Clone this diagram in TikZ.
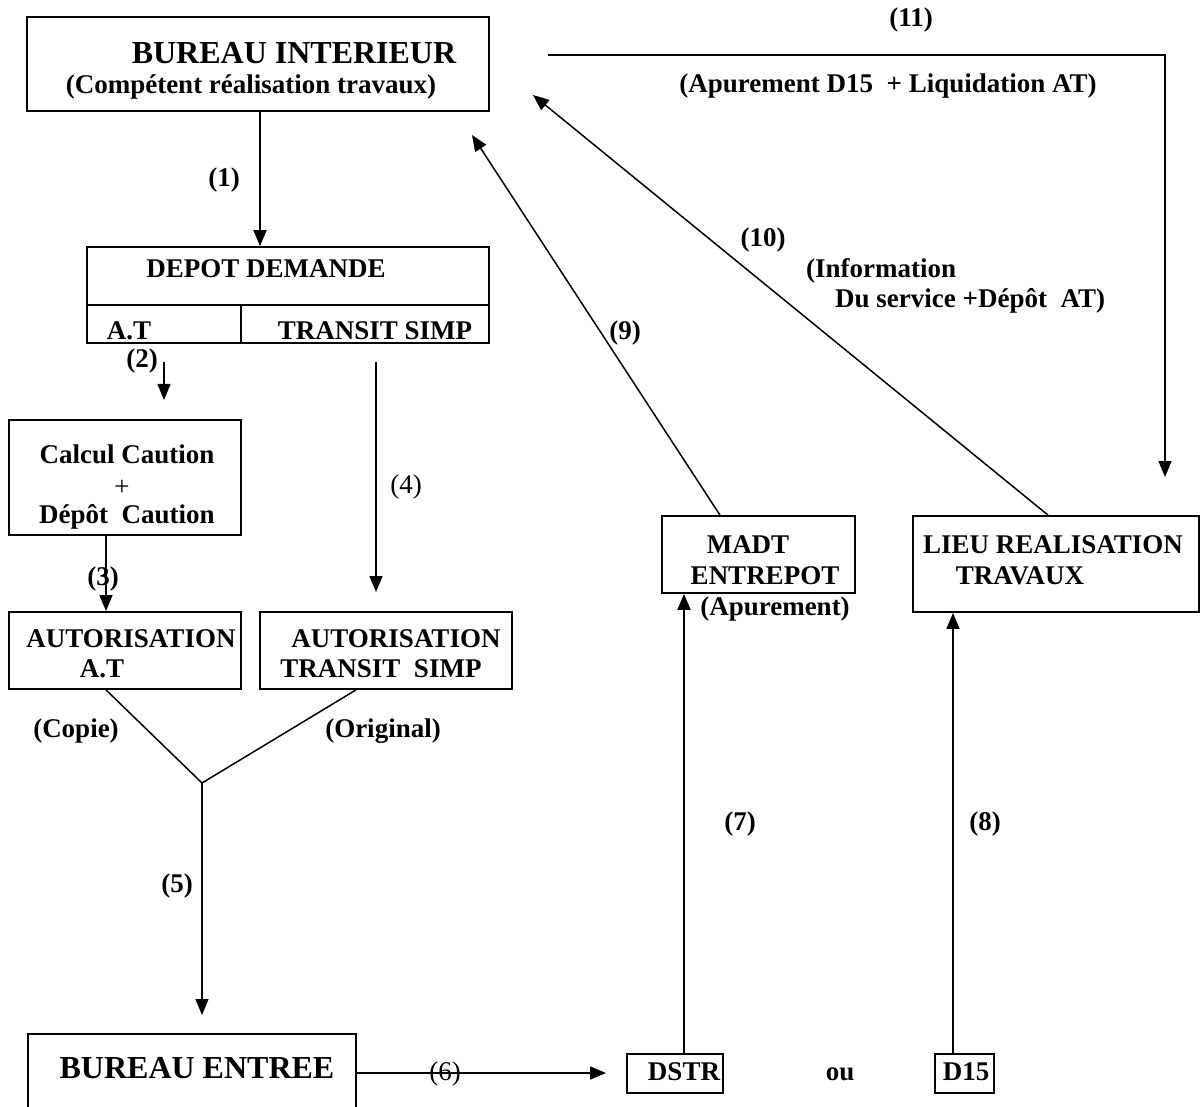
\documentclass[tikz,border=0pt]{standalone}
\usepackage{fontspec}
\setmainfont{Liberation Serif}
\usetikzlibrary{arrows.meta}
\newcommand\fnorm{\fontsize{27}{30}\selectfont\bfseries}
\newcommand\freg{\fontsize{27}{30}\selectfont}
\newcommand\fbig{\fontsize{32}{36}\selectfont\bfseries}
\tikzset{
  box/.style={draw, line width=1.8pt, rectangle, inner sep=0pt},
  ln/.style={line width=1.5pt},
  arr/.style={line width=1.5pt, -{Triangle[length=16pt,width=13pt]}},
  tx/.style={font=\fnorm, inner sep=0pt, anchor=base},
  txr/.style={font=\freg, inner sep=0pt, anchor=base},
  txb/.style={font=\fbig, inner sep=0pt, anchor=base},
}
\begin{document}
\begin{tikzpicture}[x=1pt,y=-1pt]
\useasboundingbox[fill=white] (0,0) rectangle (1200,1107);

% boxes
\node[box, minimum width=462pt, minimum height=94pt] (bi) at (258,64) {};
\node[box, minimum width=402pt, minimum height=96pt] (dd) at (288,295) {};
\node[box, minimum width=232pt, minimum height=115pt] (cc) at (125,477.5) {};
\node[box, minimum width=232pt, minimum height=77pt] (aat) at (125,650.5) {};
\node[box, minimum width=252pt, minimum height=77pt] (ats) at (386,650.5) {};
\node[box, minimum width=328pt, minimum height=100pt] (be) at (192,1084) {};
\node[box, minimum width=96pt, minimum height=39pt] (dstr) at (675,1073.5) {};
\node[box, minimum width=59pt, minimum height=39pt] (d15) at (964.5,1073.5) {};
\node[box, minimum width=193pt, minimum height=77pt] (madt) at (758.5,554.5) {};
\node[box, minimum width=286pt, minimum height=96pt] (lieu) at (1056,564) {};

% dividers of DEPOT DEMANDE
\coordinate (ddl) at (87,305);
\coordinate (ddv) at (241,305);
\draw[line width=1.8pt] (ddl) -- (ddl -| dd.east);
\draw[line width=1.8pt] (ddv) -- (ddv |- dd.south);

% texts in boxes
\node[txb] (t1) at (294,63.5) {BUREAU INTERIEUR};
\node[tx] (t2) at (251,94) {(Compétent réalisation travaux)};
\node[tx] (t3) at (266,278) {DEPOT DEMANDE};
\node[tx] (t4) at (129,340) {A.T};
\node[tx] (t5) at (375,340) {TRANSIT SIMP};
\node[tx] (t6) at (127,463) {Calcul Caution};
\node[txr] (t7) at (122,495) {+};
\node[tx] (t8) at (127,523) {Dépôt\ \ Caution};
\node[tx] (t9) at (131,647) {AUTORISATION};
\node[tx] (t10) at (102,677) {A.T};
\node[tx] (t11) at (396,647) {AUTORISATION};
\node[tx] (t12) at (381,677) {TRANSIT\ \ SIMP};
\node[tx] (t13) at (748,553) {MADT};
\node[tx] (t14) at (765,584) {ENTREPOT};
\node[tx] (t15) at (775,615) {(Apurement)};
\node[tx] (t16) at (1053,553) {LIEU REALISATION};
\node[tx] (t17) at (1020,584) {TRAVAUX};
\node[txb] (t18) at (197,1078) {BUREAU ENTREE};
\node[tx] (t19) at (684,1080) {DSTR};
\node[tx] (t20) at (840,1080) {ou};
\node[tx] (t21) at (966,1080) {D15};

% coordinates
\coordinate (x1) at (260,0);
\coordinate (x3) at (106,0);
\coordinate (xy2) at (356,0);
\coordinate (x7) at (684,0);
\coordinate (x8) at (953,0);
\coordinate (x9) at (720,0);
\coordinate (x10) at (1048,0);
\coordinate (a2s) at (164,362);
\coordinate (a2e) at (164,400);
\coordinate (a4s) at (376,362);
\coordinate (a4e) at (376,592);
\coordinate (yj) at (202,783);
\coordinate (a5e) at (202,1015);
\coordinate (y6) at (0,1073);
\coordinate (a6e) at (606,1073);
\coordinate (a9e) at (472,135);
\coordinate (a10e) at (533,95);
\coordinate (a11s) at (548,55);
\coordinate (a11c) at (1165,55);
\coordinate (a11e) at (1165,477);

% connectors
\draw[arr] (bi.south -| x1) -- (dd.north -| x1);
\draw[arr] (a2s) -- (a2e);
\draw[arr] (cc.south -| x3) -- (aat.north -| x3);
\draw[arr] (a4s) -- (a4e);
\draw[ln] (aat.south -| x3) -- (yj);
\draw[ln] (ats.south -| xy2) -- (yj);
\draw[arr] (yj) -- (a5e);
\draw[arr] (be.east |- y6) -- (a6e);
\draw[arr] (dstr.north -| x7) -- (madt.south -| x7);
\draw[arr] (d15.north -| x8) -- (lieu.south -| x8);
\draw[arr] (madt.north -| x9) -- (a9e);
\draw[arr] (lieu.north -| x10) -- (a10e);
\draw[arr] (a11s) -- (a11c) -- (a11e);

% labels
\node[tx] (l1) at (224,187) {(1)};
\node[tx] (l2) at (142,367) {(2)};
\node[tx] (l3) at (103,585) {(3)};
\node[txr] (l4) at (406,493) {(4)};
\node[tx] (l5) at (177,892) {(5)};
\node[txr] (l6) at (445,1080) {(6)};
\node[tx] (l7) at (740,830) {(7)};
\node[tx] (l8) at (985,830) {(8)};
\node[tx] (l9) at (625,340) {(9)};
\node[tx] (l10) at (763,247) {(10)};
\node[tx] (l11) at (911,27) {(11)};
\node[tx] (l11b) at (888,93) {(Apurement D15\ \ + Liquidation AT)};
\node[tx, anchor=base west] (l10a) at (806,278) {(Information};
\node[tx, anchor=base west] (l10b) at (835,308) {Du service +Dépôt\ \ AT)};
\node[tx] (lc) at (76,737) {(Copie)};
\node[tx] (lo) at (383,737) {(Original)};
\end{tikzpicture}
\end{document}
